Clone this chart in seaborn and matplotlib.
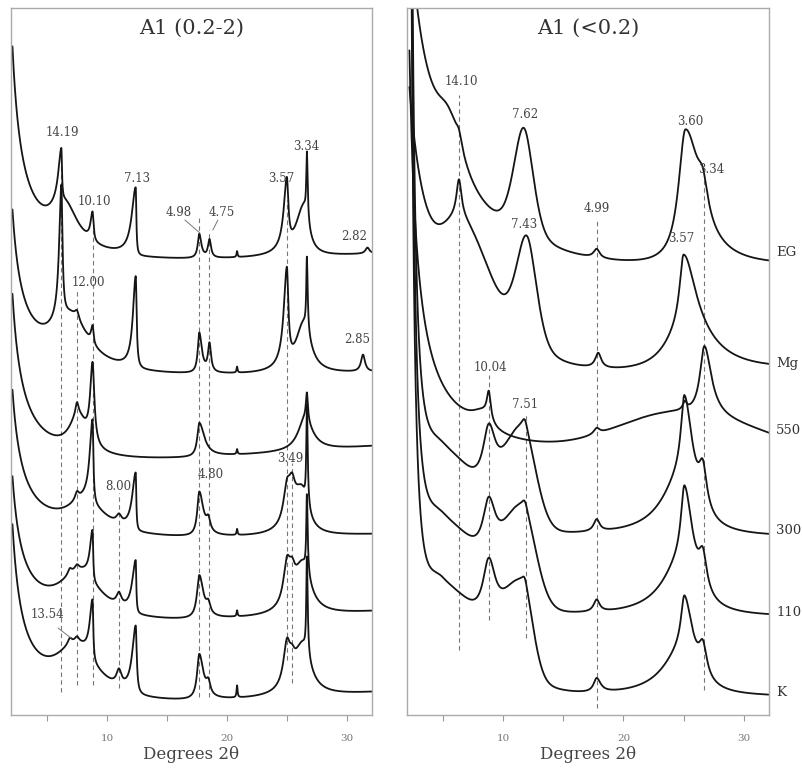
import numpy as np
import pandas as pd
import matplotlib
matplotlib.use('Agg')
import matplotlib.pyplot as plt
import seaborn as sns

# Echantillons (de haut en bas)
samples = ['EG', 'Mg', '550', '300', '110', 'K']

# Fond continu : base + amp / (2theta - x0)**pow + pente * (2theta - 2)
# panneau gauche A1 (0.2-2)
bg_base_a = [430, 322, 229.8, 159, 69.5, -14.6]
bg_amp_a = [216, 163, 175, 150, 150, 182]
bg_x0_a = [1.2, 1.2, 1.2, 1.2, 1.2, 1.2]
bg_pow_a = [1, 1, 1, 1, 1, 1]
bg_slope_a = [0.8, 0.5, 1.1, 0.55, 0.95, 1.02]
# panneau droit A1 (<0.2)
bg_base_b = [388, 278.7, 244, 178, 98, 18]
bg_amp_b = [866, 760, 294, 230, 230, 230]
bg_x0_b = [0, 0, 1.5, 1.8, 1.8, 1.8]
bg_pow_b = [1, 1, 1, 2, 2, 2]
bg_slope_b = [1.1, 1.35, 0, 0, 0, 0]

# Pics : (2theta, hauteur, largeur gauche, largeur droite, part lorentzienne)
peaks_a_eg = [(6.5, 40, 1.3, 1.3, 1), (6.2, 52, 0.3, 0.06, 1), (8.8, 29, 0.2, 0.1, 1),
              (12.4, 68, 0.4, 0.06, 1), (17.7, 24, 0.15, 0.2, 1), (18.55, 18, 0.15, 0.15, 1),
              (20.85, 6, 0.05, 0.05, 1), (25.0, 68, 0.31, 0.15, 1), (26.4, 50, 0.8, 0.5, 1),
              (26.67, 66, 0.06, 0.08, 1), (31.72, 6, 0.2, 0.2, 1)]
peaks_a_mg = [(7.0, 48, 1.8, 1.8, 1), (6.2, 133, 0.22, 0.11, 1), (7.5, 8, 0.2, 0.2, 1),
              (8.8, 18, 0.15, 0.1, 1), (12.4, 92, 0.28, 0.09, 1), (17.7, 40, 0.15, 0.25, 1),
              (18.55, 28, 0.15, 0.15, 1), (20.85, 6, 0.05, 0.05, 1), (25.0, 95, 0.31, 0.15, 1),
              (26.4, 50, 0.8, 0.7, 1), (26.67, 73, 0.06, 0.08, 1), (31.35, 17, 0.2, 0.2, 1)]
peaks_a_550 = [(7.6, 35, 0.9, 0.9, 1), (7.5, 12, 0.15, 0.15, 1), (8.8, 80, 0.235, 0.18, 1),
               (17.7, 34, 0.2, 0.5, 1), (20.85, 5, 0.05, 0.05, 1), (26.5, 32, 0.7, 0.8, 1),
               (26.67, 28, 0.1, 0.1, 1)]
peaks_a_300 = [(8.3, 30, 2.0, 2.0, 1), (7.5, 8, 0.2, 0.2, 1), (8.8, 84, 0.28, 0.08, 1),
               (11.0, 8, 0.25, 0.25, 1), (12.4, 58, 0.35, 0.055, 1), (17.7, 44, 0.2, 0.4, 1),
               (18.45, 12, 0.2, 0.2, 1), (20.85, 6, 0.05, 0.05, 1), (25.0, 30, 0.35, 0.3, 1),
               (25.42, 28, 0.35, 0.3, 1), (26.2, 45, 0.9, 0.65, 1), (26.67, 100, 0.06, 0.08, 1)]
peaks_a_110 = [(7.8, 45, 2.2, 2.2, 1), (6.9, 6, 0.2, 0.2, 1), (7.5, 5, 0.2, 0.2, 1),
               (8.8, 51, 0.26, 0.06, 1), (11.0, 12, 0.25, 0.25, 1), (12.4, 53, 0.35, 0.055, 1),
               (17.7, 43, 0.23, 0.4, 1), (18.45, 10, 0.2, 0.2, 1), (20.85, 6, 0.05, 0.05, 1),
               (25.0, 35, 0.35, 0.3, 1), (25.42, 22, 0.35, 0.3, 1), (26.3, 50, 0.9, 0.8, 1),
               (26.67, 78, 0.06, 0.08, 1)]
peaks_a_k = [(7.5, 50, 2.2, 2.2, 1), (6.9, 6, 0.2, 0.2, 1), (7.5, 5, 0.2, 0.2, 1),
             (8.8, 61, 0.28, 0.07, 1), (11.0, 15, 0.25, 0.25, 1), (12.4, 68, 0.35, 0.1, 1),
             (17.7, 45, 0.22, 0.4, 1), (18.45, 12, 0.2, 0.2, 1), (20.85, 12, 0.05, 0.05, 1),
             (25.0, 38, 0.35, 0.3, 1), (25.42, 15, 0.3, 0.3, 1), (26.3, 50, 0.9, 0.8, 1),
             (26.67, 97, 0.06, 0.08, 1)]

peaks_b_eg = [(5.5, 55, 1.5, 1.5, 1), (6.32, 12, 0.3, 0.3, 1), (11.71, 111, 1.0, 0.95, 0.4),
              (17.77, 9, 0.3, 0.3, 1), (25.15, 134, 0.7, 1.5, 1), (26.6, 30, 0.5, 0.5, 1)]
peaks_b_mg = [(6.8, 95, 2.0, 2.63, 0), (6.32, 37, 0.25, 0.25, 1), (11.96, 116, 1.1, 1.0, 0.5),
              (17.9, 15, 0.3, 0.3, 1), (25.0, 75, 0.4, 1.2, 1), (24.9, 45, 1.8, 2.8, 1)]
peaks_b_550 = [(24.5, 45, 6, 9, 0), (8.3, 16, 1.2, 0.8, 1), (8.8, 28, 0.2, 0.2, 1),
               (17.77, 6, 0.3, 0.3, 1), (25.1, 8, 0.2, 0.2, 1), (26.73, 70, 0.45, 0.7, 1)]
peaks_b_300 = [(5.0, 70, 2.0, 3.5, 0), (8.8, 59, 0.6, 0.68, 1), (11.6, 95, 1.8, 1.3, 0),
               (11.8, 12, 0.3, 0.3, 1), (17.77, 12, 0.3, 0.3, 1), (25.07, 80, 0.35, 0.8, 1),
               (24.9, 60, 2.0, 1.2, 1), (26.6, 40, 0.4, 0.4, 1)]
peaks_b_110 = [(5.0, 80, 2.0, 4.0, 0), (8.8, 55, 0.6, 0.68, 1), (11.6, 90, 1.8, 1.3, 0),
               (11.8, 10, 0.3, 0.3, 1), (17.77, 12, 0.3, 0.3, 1), (25.07, 75, 0.35, 0.8, 1),
               (24.9, 55, 2.0, 1.2, 1), (26.6, 35, 0.4, 0.4, 1)]
peaks_b_k = [(5.0, 95, 2.0, 4.5, 0), (8.8, 60, 0.6, 0.68, 1), (11.6, 85, 1.8, 1.0, 0),
             (11.8, 10, 0.3, 0.3, 1), (17.77, 14, 0.3, 0.4, 1), (25.07, 55, 0.35, 0.8, 1),
             (24.9, 45, 2.0, 1.2, 1), (26.6, 30, 0.4, 0.4, 1)]

# Etiquettes des pics (d en Angstrom) : texte, 2theta, intensite
labels_a = ['14.19', '10.10', '7.13', '4.98', '4.75', '3.57', '3.34', '2.82',
            '12.00', '2.85', '8.00', '4.80', '3.49', '13.54']
labels_a_x = [6.25, 8.92, 12.5, 16.0, 19.58, 24.5, 26.58, 30.58, 8.42, 30.83, 10.92, 18.67, 25.25, 5.0]
labels_a_y = [583, 514, 537, 503, 503, 537, 569, 479, 433, 376, 228, 240, 257, 100]
labels_b = ['14.10', '7.62', '3.60', '3.34', '4.99', '7.43', '3.57', '10.04', '7.51']
labels_b_x = [6.56, 11.79, 25.57, 27.31, 17.77, 11.71, 24.82, 8.97, 11.79]
labels_b_y = [634, 601, 594, 546, 506, 490, 477, 348, 311]

# Traits de rappel (2theta, haut, bas)
dash_a_x = [6.17, 7.5, 8.83, 11.0, 17.67, 18.5, 25.0, 25.42]
dash_a_top = [565, 425, 485, 222, 498, 485, 515, 252]
dash_a_bot = [23, 30, 30, 27, 18, 18, 55, 32]
dash_b_x = [6.32, 8.8, 11.88, 17.77, 26.73]
dash_b_top = [620, 340, 300, 495, 542]
dash_b_bot = [65, 95, 77, 7, 25]

# Petits traits vers les etiquettes
lead_a = [((16.5, 495), (17.75, 482)), ((19.25, 495), (18.83, 485)), ((5.92, 87), (7.0, 77))]

# Position verticale des noms d'echantillon (pixels depuis le haut)
sample_label_py = [252, 363, 430, 530, 613, 693]


def peak(x, c, h, wl, wr, eta):
    w = np.where(x < c, wl, wr)
    d = (x - c) / w
    return h * (eta / (1 + d ** 2) + (1 - eta) * np.exp(-np.log(2) * d ** 2))


def pattern(x, base, amp, x0, pw, slope, peaks):
    y = base + amp / (x - x0) ** pw + slope * (x - 2)
    for c, h, wl, wr, eta in peaks:
        y = y + peak(x, c, h, wl, wr, eta)
    return y


sns.set_theme(style='white')
plt.rcParams['font.family'] = ['DejaVu Serif']

W, H = 803, 771
fig = plt.figure(figsize=(W / 100, H / 100), dpi=100)
ax_a = fig.add_axes([11 / W, (H - 715) / H, 361 / W, 707 / H])
ax_b = fig.add_axes([407 / W, (H - 715) / H, 362 / W, 707 / H])

rows = []
x_a = np.linspace(2.12, 32.1, 3000)
x_b = np.linspace(2.2, 32.1, 3000)
for i, s in enumerate(samples):
    pa = [peaks_a_eg, peaks_a_mg, peaks_a_550, peaks_a_300, peaks_a_110, peaks_a_k][i]
    pb = [peaks_b_eg, peaks_b_mg, peaks_b_550, peaks_b_300, peaks_b_110, peaks_b_k][i]
    ya = pattern(x_a, bg_base_a[i], bg_amp_a[i], bg_x0_a[i], bg_pow_a[i], bg_slope_a[i], pa)
    yb = pattern(x_b, bg_base_b[i], bg_amp_b[i], bg_x0_b[i], bg_pow_b[i], bg_slope_b[i], pb)
    rows.append(pd.DataFrame({'theta': x_a, 'I': np.minimum(ya, 900), 'sample': s, 'frac': 'a'}))
    rows.append(pd.DataFrame({'theta': x_b, 'I': np.minimum(yb, 900), 'sample': s, 'frac': 'b'}))
df = pd.concat(rows, ignore_index=True)

for ax, frac in [(ax_a, 'a'), (ax_b, 'b')]:
    sns.lineplot(data=df[df['frac'] == frac], x='theta', y='I', units='sample',
                 estimator=None, sort=False, color='#151515', lw=1.3, ax=ax, legend=False)

for x, t, b in zip(dash_a_x, dash_a_top, dash_a_bot):
    ax_a.plot([x, x], [b, t], ls=(0, (4, 3)), color='#777777', lw=0.8, zorder=1)
for x, t, b in zip(dash_b_x, dash_b_top, dash_b_bot):
    ax_b.plot([x, x], [b, t], ls=(0, (4, 3)), color='#777777', lw=0.8, zorder=1)
for (x1, y1), (x2, y2) in lead_a:
    ax_a.plot([x1, x2], [y1, y2], color='#777777', lw=0.7)

for t, x, y in zip(labels_a, labels_a_x, labels_a_y):
    ax_a.text(x, y, t, ha='center', va='center', fontsize=8.5, color='#444444')
for t, x, y in zip(labels_b, labels_b_x, labels_b_y):
    ax_b.text(x, y, t, ha='center', va='center', fontsize=8.5, color='#444444')

for ax, title in [(ax_a, 'A1 (0.2-2)'), (ax_b, 'A1 (<0.2)')]:
    ax.text(0.5, 0.972, title, transform=ax.transAxes, ha='center', va='center',
            fontsize=15, color='#333333')
    ax.set_xlim(2, 32.1)
    ax.set_ylim(0, 707)
    ax.set_yticks([])
    ax.set_xticks([10, 20, 30])
    ax.set_xticks([5, 15, 25], minor=True)
    ax.tick_params(axis='x', which='both', direction='out', length=4, width=0.8,
                   color='#999999', labelsize=7.5, labelcolor='#777777', pad=10, bottom=True)
    ax.set_xlabel('Degrees 2\u03b8', fontsize=12, color='#444444', labelpad=2)
    ax.set_ylabel('')
    for sp in ax.spines.values():
        sp.set_color('#aaaaaa')
        sp.set_linewidth(1.0)

for s, py in zip(samples, sample_label_py):
    fig.text(776 / W, 1 - py / H, s, ha='left', va='center', fontsize=9.5, color='#333333')

fig.savefig('out.png', dpi=100)
